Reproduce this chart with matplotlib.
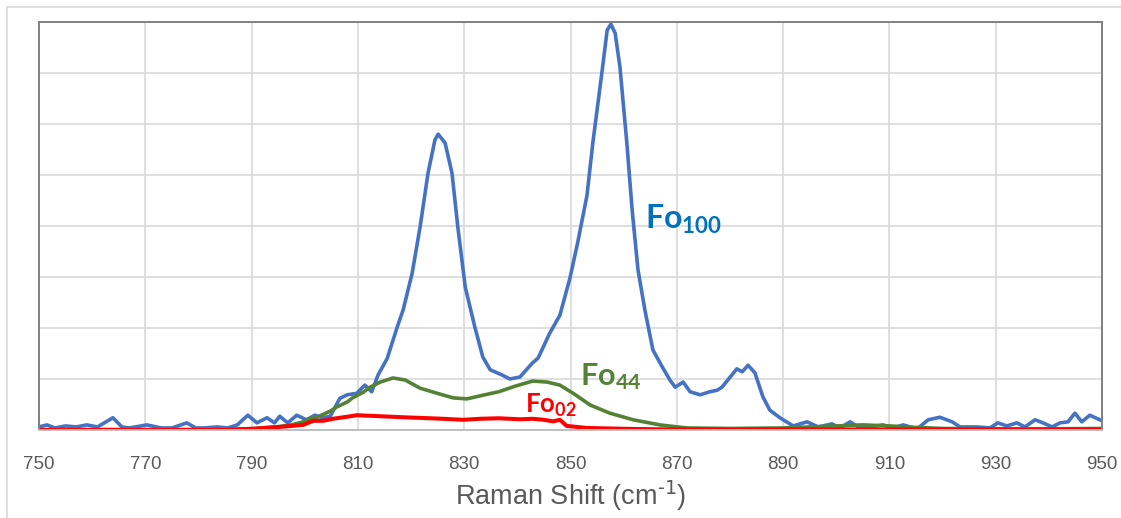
import matplotlib
matplotlib.use("Agg")
import matplotlib.pyplot as plt
from matplotlib.patches import Rectangle

# Fo100 (azul)
x_fo100 = [750, 751.5, 753, 755, 757, 759, 761, 763.9, 765.6, 767, 770.3, 773, 775,
           777.8, 779.5, 781, 783.5, 785.5, 787.3, 789.3, 791, 792.9, 794.3, 795.3,
           796.8, 798.5, 800.3, 801.9, 803.4, 804.8, 806.6, 808, 809.8, 811.3, 812.6,
           813.8, 815.5, 817.4, 818.5, 820.2, 821.7, 823.2, 824.5, 825.1, 826.4, 827.7,
           828.8, 830.2, 832, 833.5, 834.9, 837.1, 838.6, 840.5, 842.8, 843.9, 846.1,
           848, 849.9, 851.4, 853.1, 854.2, 855.9, 856.9, 857.6, 858.4, 859.3, 860.6,
           861.6, 862.7, 864, 865.5, 867.2, 868.7, 869.7, 871.2, 872.5, 874.4, 876.2,
           877.6, 878.5, 879.6, 881.3, 882.3, 883.4, 884.7, 886.2, 887.5, 889.4, 891.9,
           894.5, 896.6, 899.2, 900.7, 902.6, 904.5, 906.3, 908.8, 910.7, 912.6, 915.2,
           917.3, 919.5, 921.8, 923.3, 926.5, 928.9, 930.4, 932.1, 934, 935.5, 937.4,
           938.9, 940.6, 942.1, 943.6, 944.9, 946.2, 947.7, 949.6, 950]
y_fo100 = [0.06, 0.10, 0.04, 0.08, 0.06, 0.10, 0.06, 0.24, 0.06, 0.04, 0.10, 0.04, 0.04,
           0.14, 0.04, 0.04, 0.06, 0.04, 0.10, 0.29, 0.14, 0.24, 0.14, 0.27,
           0.14, 0.29, 0.20, 0.29, 0.24, 0.27, 0.62, 0.69, 0.72, 0.88, 0.75,
           1.08, 1.40, 2.02, 2.35, 3.07, 3.98, 5.04, 5.69, 5.80, 5.63, 5.04,
           3.98, 2.80, 2.02, 1.43, 1.18, 1.08, 1.00, 1.04, 1.31, 1.41, 1.90,
           2.25, 2.98, 3.70, 4.60, 5.63, 7.00, 7.84, 7.96, 7.78, 7.12, 5.63,
           4.31, 3.14, 2.35, 1.57, 1.25, 0.98, 0.84, 0.94, 0.75, 0.69, 0.75,
           0.78, 0.84, 0.98, 1.20, 1.14, 1.27, 1.12, 0.65, 0.39, 0.24, 0.08,
           0.16, 0.06, 0.12, 0.04, 0.16, 0.04, 0.06, 0.10, 0.04, 0.10, 0.02,
           0.20, 0.25, 0.16, 0.06, 0.06, 0.04, 0.14, 0.08, 0.14, 0.06, 0.20,
           0.14, 0.06, 0.14, 0.16, 0.33, 0.16, 0.29, 0.20, 0.18]

# Fo44 (verde)
x_fo44 = [750, 780, 790, 792, 795.3, 797.5, 799.7, 801.6, 802.3, 804.8, 806, 808, 809,
          811, 812.3, 814.2, 816.6, 818.9, 821.7, 824.9, 827.9, 830.5, 833, 836.5,
          839.6, 842.9, 845.6, 848, 850.5, 853.7, 857.4, 861.8, 866.8, 871.9, 880,
          890, 900, 905, 910, 915, 920, 935, 950]
y_fo44 = [0.01, 0.01, 0.02, 0.04, 0.07, 0.10, 0.16, 0.24, 0.25, 0.37, 0.45, 0.55, 0.63,
          0.74, 0.84, 0.94, 1.02, 0.98, 0.82, 0.72, 0.63, 0.61, 0.67, 0.75,
          0.86, 0.96, 0.94, 0.88, 0.72, 0.49, 0.33, 0.20, 0.10, 0.04, 0.03,
          0.04, 0.08, 0.10, 0.08, 0.05, 0.03, 0.02, 0.03]

# Fo02 (rojo)
x_fo02 = [750, 785, 791, 795.3, 799.7, 801.6, 803.4, 805.3, 808, 809.8, 812, 814.2,
          818.5, 823.6, 826, 829.8, 833, 836.5, 840.5, 842.9, 845, 846.7, 848, 849.3,
          853.1, 861.8, 870, 950]
y_fo02 = [0.0, 0.0, 0.03, 0.06, 0.10, 0.18, 0.18, 0.22, 0.26, 0.29, 0.28, 0.27,
          0.25, 0.23, 0.22, 0.20, 0.22, 0.23, 0.21, 0.22, 0.20, 0.17, 0.20, 0.08,
          0.04, 0.02, 0.01, 0.01]

xticks = list(range(750, 951, 20))

plt.rcParams['font.family'] = ['Liberation Sans', 'DejaVu Sans']
plt.rcParams['mathtext.default'] = 'regular'

fig = plt.figure(figsize=(11.21, 5.18), dpi=100, facecolor='w')
# marco exterior del grafico
fig.patches.append(Rectangle((7/1121, -0.1), 1.2, (518 - 7)/518 + 0.1,
                             transform=fig.transFigure, fill=False,
                             ec='#D9D9D9', lw=1.2))
ax = fig.add_axes([39/1121, 88/518, 1063/1121, 408/518])

ax.plot(x_fo100, y_fo100, color='#4472C4', lw=2.6, solid_capstyle='round', solid_joinstyle='round')
ax.plot(x_fo44, y_fo44, color='#548235', lw=2.6, solid_capstyle='round', solid_joinstyle='round')
ax.plot(x_fo02, y_fo02, color='#FF0000', lw=2.9, solid_capstyle='round', solid_joinstyle='round')

ax.set_xlim(750, 950)
ax.set_ylim(0, 8)
ax.set_xticks(xticks)
ax.set_yticks(range(0, 9))
ax.set_yticklabels([])
ax.tick_params(axis='x', length=0, pad=19, labelsize=13.5, colors='#595959')
ax.tick_params(axis='y', length=0)
ax.grid(True, color='#D9D9D9', lw=1.2)
ax.set_axisbelow(True)

for s in ['top', 'left', 'right']:
    ax.spines[s].set_color('#808080')
    ax.spines[s].set_linewidth(1.4)
ax.spines['bottom'].set_color('#BFBFBF')
ax.spines['bottom'].set_linewidth(1.4)

ax.set_xlabel(r'Raman Shift (cm$^{\text{-1}}$)', fontsize=19.5, color='#595959', labelpad=4)

# etiquetas de las curvas
ax.text(864.0, 3.94, r'$Fo_{100}$', color='#0070C0', fontsize=23,
        family=['Lato', 'DejaVu Sans'], weight='bold', ha='left', va='baseline')
ax.text(851.8, 0.88, r'$Fo_{44}$', color='#548235', fontsize=22,
        family=['Lato', 'DejaVu Sans'], weight='bold', ha='left', va='baseline')
ax.text(841.4, 0.33, r'$Fo_{02}$', color='#FF0000', fontsize=18.5,
        family=['Lato', 'DejaVu Sans'], weight='bold', ha='left', va='baseline')

plt.savefig('out.png', dpi=100)
